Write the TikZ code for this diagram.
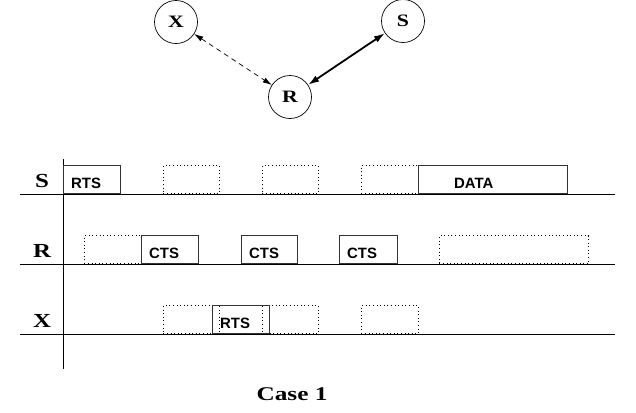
\documentclass[tikz,border=0pt]{standalone}
\usepackage{fontspec}
\setmainfont{Liberation Serif}
\newfontfamily\boxfont{Liberation Sans}
\usetikzlibrary{arrows.meta}
\tikzset{
  x=1bp, y=-1bp,
  peer/.style={circle, draw, line width=0.7bp, minimum size=43bp, inner sep=0pt,
    font=\fontsize{17.5}{17.5}\selectfont\bfseries},
  rowlabel/.style={anchor=base, font=\fontsize{20}{20}\selectfont\bfseries},
  axis/.style={line width=0.9bp},
  solidbox/.style={draw=black!80, line width=0.9bp, fill=none, inner sep=0pt, anchor=south west, minimum height=28bp},
  dotbox/.style={draw, dash pattern=on 0.8bp off 2.8bp, line width=0.9bp, inner sep=0pt, anchor=south west, minimum height=28bp},
  boxtext/.style={anchor=base west, inner sep=0pt, font=\boxfont\fontsize{15}{15}\selectfont\bfseries},
}
\newcommand{\wide}[1]{\scalebox{1.25}[1]{#1}}
\begin{document}
\begin{tikzpicture}
\useasboundingbox (0,0) rectangle (636,412);
% peers
\node[peer] (X) at (176,22) {\wide{X}};
\node[peer] (S) at (403,21) {\wide{S}};
\node[peer] (R) at (290,97) {\wide{R}};
\draw[{Latex[length=9bp,width=5.5bp]}-{Latex[length=9bp,width=5.5bp]}, dash pattern=on 5bp off 4bp, line width=0.7bp] (X) -- (R);
\draw[{Latex[length=11bp,width=7bp]}-{Latex[length=11bp,width=7bp]}, line width=1.8bp] (R) -- (S);
% axes
\coordinate (ytop) at (63,159);
\coordinate (ybot) at (63,369);
\draw[axis] (ytop) -- (ybot);
\coordinate (sl) at (20,194); \coordinate (sr) at (615,194);
\coordinate (rl) at (20,264); \coordinate (rr) at (615,264);
\coordinate (xl) at (20,334); \coordinate (xr) at (615,334);
\draw[axis] (sl) -- (sr);
\draw[axis] (rl) -- (rr);
\draw[axis] (xl) -- (xr);
\node[rowlabel] (lS) at (42,187) {\wide{S}};
\node[rowlabel] (lR) at (42,257) {\wide{R}};
\node[rowlabel] (lX) at (42,327) {\wide{X}};
% S row
\node[dotbox, minimum width=56bp] (s2) at (163,194) {};
\node[dotbox, minimum width=56bp] (s3) at (262,194) {};
\node[dotbox, minimum width=57bp] (s4) at (361,194) {};
\node[solidbox, minimum width=57bp] (s1) at (63,194) {};
\node[solidbox, minimum width=149bp] (s5) at (418,194) {};
\node[boxtext] (t1) at (71,188) {RTS};
\node[boxtext] (t5) at (454,188) {DATA};
% R row
\node[dotbox, minimum width=57bp] (r1) at (84,264) {};
\node[dotbox, minimum width=149bp] (r5) at (439,264) {};
\node[solidbox, minimum width=57bp] (r2) at (141,264) {};
\node[solidbox, minimum width=56bp] (r3) at (241,264) {};
\node[solidbox, minimum width=58bp] (r4) at (339,264) {};
\node[boxtext] (t2) at (149,258) {CTS};
\node[boxtext] (t3) at (249,258) {CTS};
\node[boxtext] (t4) at (347,258) {CTS};
% X row
\node[dotbox, minimum width=56bp] (x2) at (163,334) {};
\node[dotbox, minimum width=56bp] (x3) at (262,334) {};
\node[dotbox, minimum width=57bp] (x4) at (361,334) {};
\node[solidbox, minimum width=57bp] (x1) at (212,334) {};
\node[boxtext] (t6) at (220,328) {RTS};
% caption
\node[anchor=base, font=\fontsize{19.5}{19.5}\selectfont\bfseries] (cap) at (292,400) {\scalebox{1.3}[1]{Case 1}};
\end{tikzpicture}
\end{document}
